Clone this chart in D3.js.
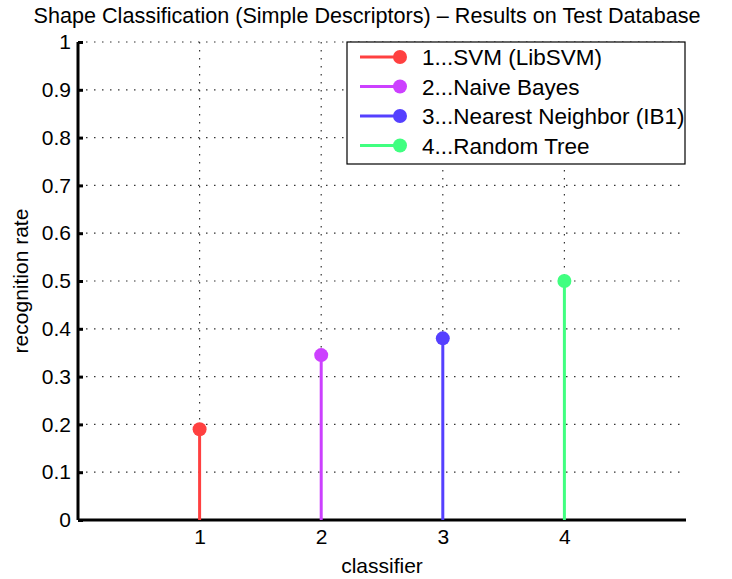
<!DOCTYPE html>
<html>
<head>
<meta charset="utf-8">
<script src="https://cdn.jsdelivr.net/npm/d3@7"></script>
<style>
body { margin: 0; background: #fff; }
text { font-family: "Liberation Sans", Arial, sans-serif; fill: #000; }
</style>
</head>
<body>
<div id="chart-area"></div>
<script>
// data
let classifiers = [1, 2, 3, 4];
let rates = [0.19, 0.345, 0.38, 0.5];
let labels = ["1...SVM (LibSVM)", "2...Naive Bayes", "3...Nearest Neighbor (IB1)", "4...Random Tree"];
let colors = ["#ff4040", "#cc40ff", "#5540ff", "#40ff80"];
let yTicks = [0, 0.1, 0.2, 0.3, 0.4, 0.5, 0.6, 0.7, 0.8, 0.9, 1];

let margin = {top: 42, right: 46, bottom: 59, left: 78};
let width = 732 - margin.left - margin.right,
    height = 579 - margin.top - margin.bottom;

let svg = d3.select("#chart-area").append("svg")
    .attr("width", 732)
    .attr("height", 579)
  .append("g")
    .attr("transform", "translate(" + margin.left + "," + margin.top + ")");

let x = d3.scaleLinear().domain([0, 5]).range([0, width]);
let y = d3.scaleLinear().domain([0, 1]).range([height, 0]);

// grid
svg.selectAll(".hgrid")
  .data(yTicks.filter(d => d > 0))
  .enter().append("line")
  .attr("x1", 0).attr("x2", width)
  .attr("y1", d => y(d)).attr("y2", d => y(d))
  .attr("stroke", "#333").attr("stroke-width", 1.2)
  .attr("stroke-dasharray", "1.5,6.5");

svg.selectAll(".vgrid")
  .data(classifiers)
  .enter().append("line")
  .attr("x1", d => x(d)).attr("x2", d => x(d))
  .attr("y1", 0).attr("y2", height)
  .attr("stroke", "#333").attr("stroke-width", 1.2)
  .attr("stroke-dasharray", "1.5,6.5");

// axes
let yAxis = d3.axisLeft(y).tickValues(yTicks).tickSize(-5).tickPadding(7)
  .tickFormat(d => String(+d.toFixed(1)));
let xAxis = d3.axisBottom(x).tickValues(classifiers).tickSize(-5).tickPadding(9)
  .tickFormat(d => String(d));

let yAxisG = svg.append("g").attr("class", "y-axis").call(yAxis);
let xAxisG = svg.append("g").attr("class", "x-axis")
  .attr("transform", "translate(0," + height + ")").call(xAxis);

[yAxisG, xAxisG].forEach(g => {
  g.select(".domain").attr("stroke", "#000").attr("stroke-width", 3);
  g.selectAll(".tick line").attr("stroke", "#000").attr("stroke-width", 3);
  g.selectAll(".tick text").style("font-size", "21px").attr("fill", "#000");
});
xAxisG.selectAll(".tick line").remove();
xAxisG.select(".domain").attr("d", "M0,0H" + width);
yAxisG.select(".domain").attr("d", "M0," + height + "V0");

// stems
svg.selectAll(".stem")
  .data(classifiers)
  .enter().append("line")
  .attr("x1", d => x(d)).attr("x2", d => x(d))
  .attr("y1", y(0)).attr("y2", (d, i) => y(rates[i]))
  .attr("stroke", (d, i) => colors[i]).attr("stroke-width", 3);

svg.selectAll(".dot")
  .data(classifiers)
  .enter().append("circle")
  .attr("cx", d => x(d)).attr("cy", (d, i) => y(rates[i]))
  .attr("r", 7).attr("fill", (d, i) => colors[i]);

// legend
let lg = svg.append("g").attr("transform", "translate(" + (347 - margin.left) + "," + 0 + ")");
lg.append("rect").attr("x", 0).attr("y", 0).attr("width", 338).attr("height", 122)
  .attr("fill", "#fff").attr("stroke", "#000").attr("stroke-width", 1.2);
labels.forEach((l, i) => {
  let yy = 15 + i * 29.5;
  lg.append("line").attr("x1", 13).attr("x2", 53).attr("y1", yy).attr("y2", yy)
    .attr("stroke", colors[i]).attr("stroke-width", 3);
  lg.append("circle").attr("cx", 53).attr("cy", yy).attr("r", 7).attr("fill", colors[i]);
  lg.append("text").attr("x", 75).attr("y", yy).attr("dy", "0.36em")
    .style("font-size", "22.5px").text(l);
});

// titles
svg.append("text").attr("x", 367 - margin.left).attr("y", 15 - margin.top)
  .attr("dy", "0.36em").attr("text-anchor", "middle").style("font-size", "21.6px")
  .text("Shape Classification (Simple Descriptors) \u2013 Results on Test Database");
svg.append("text").attr("x", width / 2).attr("y", 565 - margin.top)
  .attr("dy", "0.36em").attr("text-anchor", "middle").style("font-size", "21px")
  .text("classifier");
svg.append("text").attr("transform", "translate(" + (20 - margin.left) + "," + (height / 2) + ") rotate(-90)")
  .attr("dy", "0.36em").attr("text-anchor", "middle").style("font-size", "21px")
  .text("recognition rate");
</script>
</body>
</html>
